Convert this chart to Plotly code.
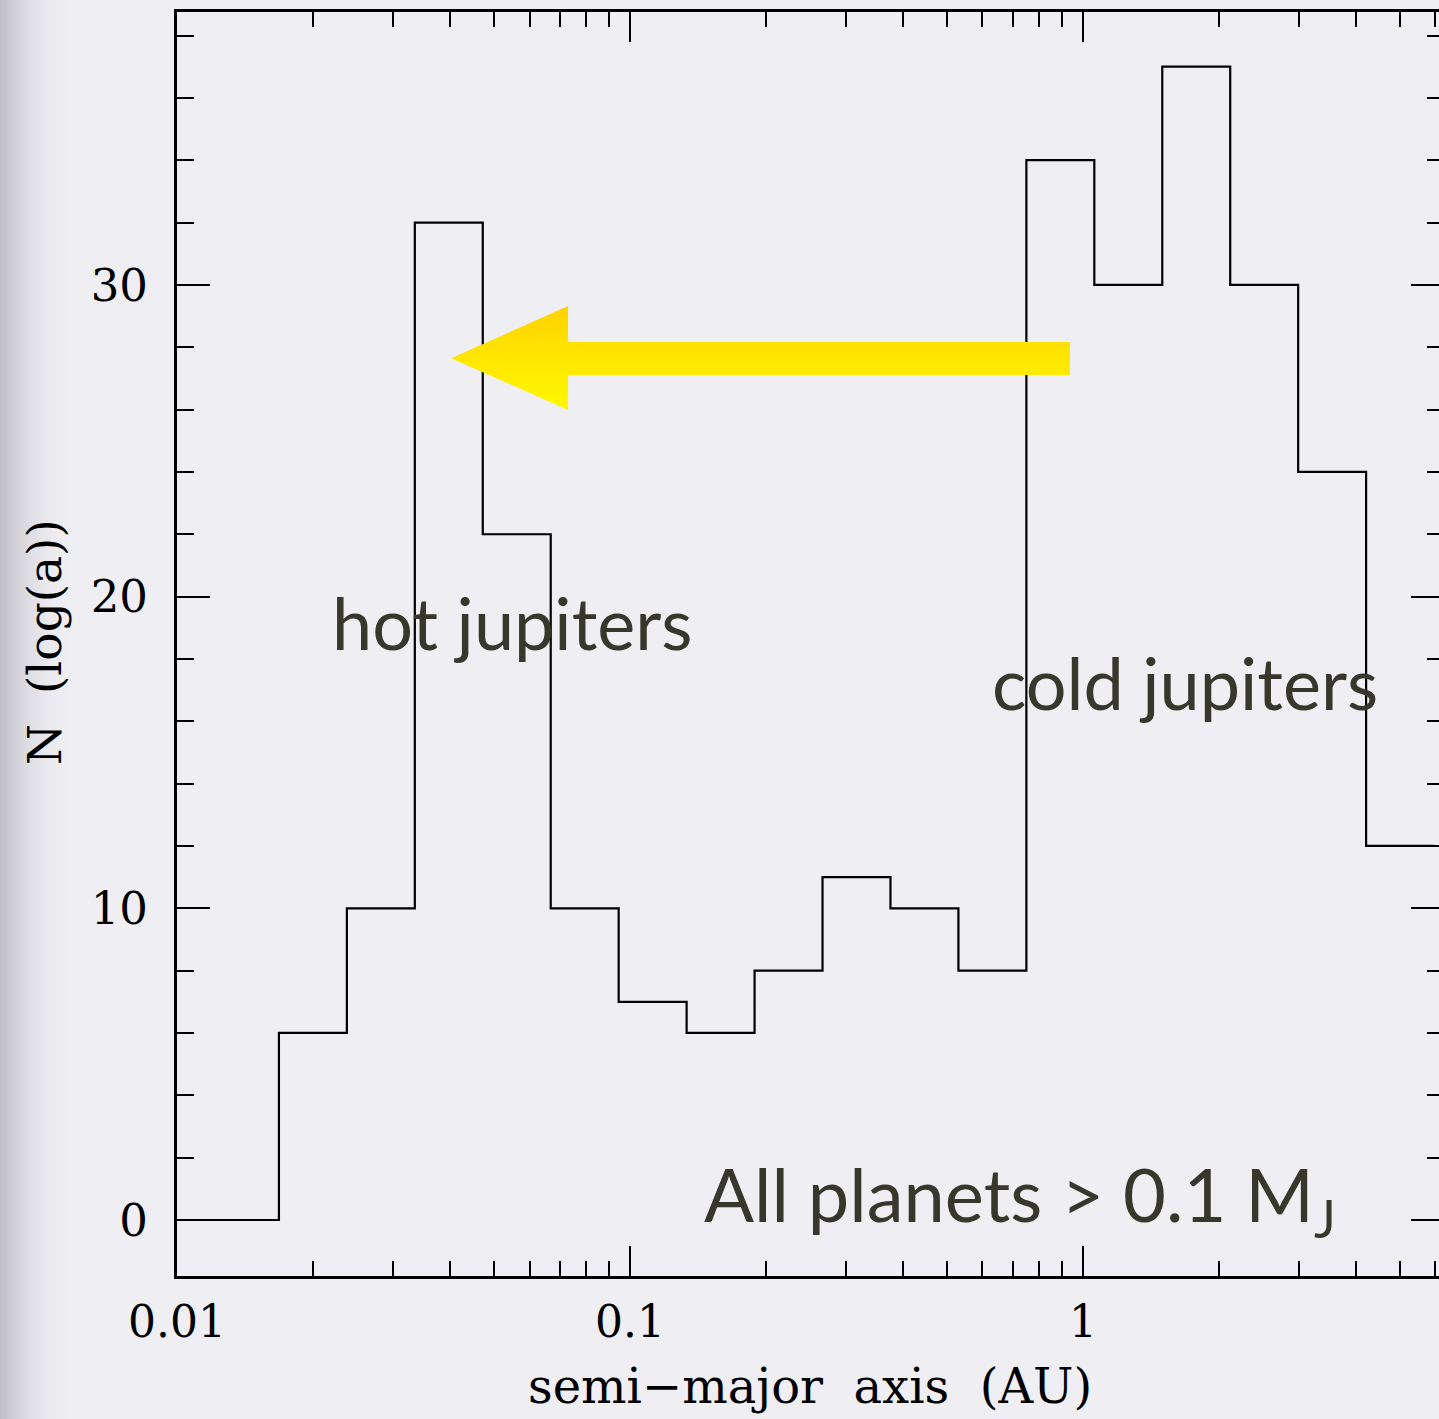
import numpy as np
import plotly.graph_objects as go

# Histogram of semi-major axes: bins of 0.15 dex in log10(a / AU)
bin_centers_log = [-2.00, -1.85, -1.70, -1.55, -1.40, -1.25, -1.10, -0.95, -0.80, -0.65,
                   -0.50, -0.35, -0.20, -0.05, 0.10, 0.25, 0.40, 0.55, 0.70]
counts = [0, 0, 6, 10, 32, 22, 10, 7, 6, 8, 11, 10, 8, 34, 30, 37, 30, 24, 12]
bin_width_dex = 0.15

x_tick_vals = [0.01, 0.1, 1]
x_tick_text = ["0.01", "0.1", "1"]
x_minor_vals = [m * d for d in (0.01, 0.1, 1) for m in range(2, 10)]
y_tick_vals = [0, 10, 20, 30]
y_tick_text = ["0", "10", "20", "30"]

# Migration arrow outline (semi-major axis in AU, N)
arrow_x = [0.0403, 0.0730, 0.0730, 0.936, 0.936, 0.0730, 0.0730, 0.0403]
arrow_y = [27.65, 29.32, 28.17, 28.17, 27.11, 27.11, 25.99, 27.65]

W, H = 1439, 1419
BG = "#efeef3"
TEXT_DARK = "#37372c"
LABEL_FONT = "DejaVu Serif"

# step outline of the histogram
edges = [c - bin_width_dex / 2 for c in bin_centers_log] + [bin_centers_log[-1] + bin_width_dex / 2]
step_x = [10 ** e for e in edges]
step_y = counts + [counts[-1]]

x_range = [-2.0, 0.7859]
y_range = [-1.797, 38.755]
x_dom = [177 / W, 1.0]
y_dom = [1 - 1276 / H, 1 - 12 / H]

fig = go.Figure()

fig.add_trace(go.Scatter(
    x=step_x, y=step_y, mode="lines", line=dict(color="black", width=2.2, shape="hv"),
    hoverinfo="skip", showlegend=False,
))

# arrow sits on the overlaid right-hand axis so it is painted above the histogram
fig.add_trace(go.Scatter(
    x=arrow_x, y=arrow_y, yaxis="y2", mode="lines", fill="toself", line=dict(width=0),
    fillgradient=dict(type="vertical", colorscale=[[0, "#fff800"], [0.5, "#ffe600"], [1, "#ffd200"]]),
    hoverinfo="skip", showlegend=False,
))

tick_common = dict(ticks="inside", tickcolor="black", tickwidth=2.4,
                   showgrid=False, zeroline=False, automargin=False)

fig.update_layout(
    width=W, height=H, template="none",
    margin=dict(l=0, r=0, t=0, b=0),
    paper_bgcolor=BG, plot_bgcolor="rgba(0,0,0,0)",
    showlegend=False,
    xaxis=dict(
        type="log", range=x_range, domain=x_dom, anchor="y",
        tickmode="array", tickvals=x_tick_vals, ticktext=x_tick_text, ticklen=30,
        showline=True, linecolor="black", linewidth=3, mirror="ticks",
        tickfont=dict(family=LABEL_FONT, size=44, color="black"),
        ticklabelstandoff=5,
        minor=dict(tickmode="array", tickvals=x_minor_vals, ticks="inside", ticklen=15,
                   tickcolor="black", tickwidth=2.4, showgrid=False),
        **tick_common,
    ),
    yaxis=dict(
        range=y_range, domain=y_dom, anchor="x",
        tickmode="array", tickvals=y_tick_vals, ticktext=y_tick_text, ticklen=33,
        showline=True, linecolor="black", linewidth=3, mirror=False,
        tickfont=dict(family=LABEL_FONT, size=45, color="black"),
        ticklabelstandoff=17,
        minor=dict(dtick=2, tick0=0, ticks="inside", ticklen=17,
                   tickcolor="black", tickwidth=2.4, showgrid=False),
        **tick_common,
    ),
    yaxis2=dict(
        range=y_range, domain=y_dom, anchor="x", overlaying="y", side="right",
        tickmode="array", tickvals=y_tick_vals, ticklen=28, showticklabels=False,
        showline=False,
        minor=dict(dtick=2, tick0=0, ticks="inside", ticklen=12,
                   tickcolor="black", tickwidth=2.4, showgrid=False),
        **tick_common,
    ),
)

# soft shading along the left edge of the page
n_strips = 35
for i in range(n_strips):
    x0 = i * 2
    a = 0.36 * (1 - x0 / 70) ** 2
    fig.add_shape(type="rect", xref="paper", yref="paper", layer="below",
                  x0=x0 / W, x1=(x0 + 2) / W, y0=0, y1=1,
                  line=dict(width=0), fillcolor=f"rgba(110,110,120,{a:.3f})")

def px_x(p):
    return p / W

def px_y(p):
    return 1 - p / H

fig.add_annotation(xref="paper", yref="paper", x=px_x(810), y=px_y(1386),
                   text="semi\u2212major  axis  (AU)", showarrow=False,
                   xanchor="center", yanchor="middle",
                   font=dict(family=LABEL_FONT, size=48, color="black"))
fig.add_annotation(xref="paper", yref="paper", x=px_x(44), y=px_y(642),
                   text="N  (log(a))", showarrow=False, textangle=-90,
                   xanchor="center", yanchor="middle",
                   font=dict(family=LABEL_FONT, size=47, color="black"))

label_font = dict(family="Lato", size=72, color=TEXT_DARK)
fig.add_annotation(xref="paper", yref="paper", x=px_x(330), y=px_y(622),
                   text="hot jupiters", showarrow=False,
                   xanchor="left", yanchor="middle", font=label_font)
fig.add_annotation(xref="paper", yref="paper", x=px_x(990), y=px_y(682),
                   text="cold jupiters", showarrow=False,
                   xanchor="left", yanchor="middle", font=label_font)
fig.add_annotation(xref="paper", yref="paper", x=px_x(702), y=px_y(1199),
                   text="All planets > 0.1 M<sub>J</sub>", showarrow=False,
                   xanchor="left", yanchor="middle",
                   font=dict(family="Lato", size=74, color=TEXT_DARK))

fig.write_html("out.html")
